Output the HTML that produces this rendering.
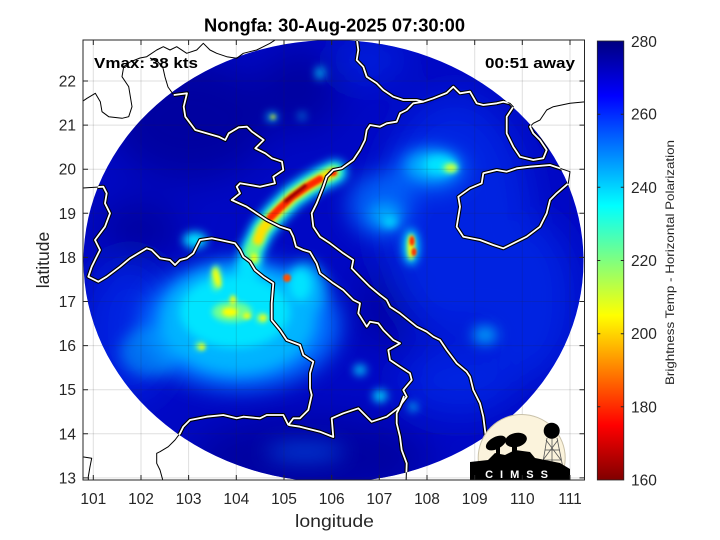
<!DOCTYPE html>
<html><head><meta charset="utf-8"><style>
html,body{margin:0;padding:0;background:#fff;}
svg{display:block;font-family:"Liberation Sans",sans-serif;}
</style></head><body>
<svg width="720" height="540" viewBox="0 0 720 540" xmlns="http://www.w3.org/2000/svg">
<defs>
<clipPath id="ax"><rect x="83" y="40" width="501.5" height="440"/></clipPath>
<clipPath id="disk"><ellipse cx="333.5" cy="261" rx="250" ry="221"/></clipPath>
<filter id="b18" filterUnits="userSpaceOnUse" x="0" y="0" width="720" height="540"><feGaussianBlur stdDeviation="18"/></filter>
<filter id="b12" filterUnits="userSpaceOnUse" x="0" y="0" width="720" height="540"><feGaussianBlur stdDeviation="11"/></filter>
<filter id="b9" filterUnits="userSpaceOnUse" x="0" y="0" width="720" height="540"><feGaussianBlur stdDeviation="7"/></filter>
<filter id="b6" filterUnits="userSpaceOnUse" x="0" y="0" width="720" height="540"><feGaussianBlur stdDeviation="4.5"/></filter>
<filter id="b4" filterUnits="userSpaceOnUse" x="0" y="0" width="720" height="540"><feGaussianBlur stdDeviation="3"/></filter>
<filter id="b2" filterUnits="userSpaceOnUse" x="0" y="0" width="720" height="540"><feGaussianBlur stdDeviation="2"/></filter>
<filter id="b1" filterUnits="userSpaceOnUse" x="0" y="0" width="720" height="540"><feGaussianBlur stdDeviation="1.3"/></filter>
<linearGradient id="jet" x1="0" y1="0" x2="0" y2="1">
<stop offset="0" stop-color="#000080"/><stop offset="0.125" stop-color="#0000ff"/>
<stop offset="0.375" stop-color="#00ffff"/><stop offset="0.625" stop-color="#ffff00"/>
<stop offset="0.875" stop-color="#ff0000"/><stop offset="1" stop-color="#800000"/>
</linearGradient>
<path id="L1" d="M173.7,95 L187,93.3 L183.7,106.7 L185.3,116.7 L195.3,130 L218.7,136.7 L225.3,140 L228.7,133.3 L238.7,127.3 L247,126.7 L252,131.7 L263.7,140 L255.3,148.3 L265.3,153.3 L272,158.3 L282,161.7 L283.3,170 L273.3,176.7 L275,183.3 L260,186.7 L240,183.3 L236.7,186.7 L240,193.3 L231.7,200 L246.7,206.7 L266.7,220 L280,226.7 L290,230 L293.3,236.7 L296,246.7 L303.3,250 L310,252 L316.7,263.3 L320,273.3 L333.3,283.3 L343.3,290 L353.3,300 L360,303.3 L358.3,313.3 L366.7,326.7 L370,321.7 L378.3,323.3 L383.3,330 L393.3,340 L400,343.3 L388.3,350 L390,360 L400,366.7 L410,373.3 L411.7,380 L403.3,390 L406.7,396.7 L401.7,403.3 L396.7,413.3 L396.7,423.3 L400,436.7 L401.7,450 L406.7,463.3 L406,484"/>
<path id="L2" d="M356.7,38 L358.3,50 L356.7,60 L363.3,66.7 L366.7,76.7 L376.7,83.3 L383.3,90 L393.3,96.7 L403.3,100 L416.7,100 L423.3,101.7 L433.3,98.3 L446.7,93 L453.3,86.7 L460,93.3 L470,91.7 L476.7,103.3 L483.3,105 L496.7,103.3 L503.3,101.7 L510,103.3 L513.3,106.7 L506.7,116.7 L506.7,133.3 L513.3,146.7 L520,156.7 L533.3,160 L543.3,158.3 L546.7,150 L540,140 L533.3,133.3 L530,126.7 L533.3,123.3 L540,120 L546.7,110 L553.3,106.7 L570,103.3 L586,101.7"/>
<path id="L4" d="M423.3,101.7 L413.3,103.3 L406.7,110 L400,113.3 L396.7,121.7 L386.7,123.3 L380,126.7 L370,125 L366.7,130 L365,140 L360,150 L353.3,160 L341.7,168.3 L333.3,170 L326.7,176.7 L323.3,186.7 L316.7,203.3 L311.7,213.3 L313.3,226.7 L320,236.7 L330,243.3 L343.3,253.3 L353.3,260 L351.7,268.3 L360,276.7 L370,286.7 L380,295 L386.7,300 L390,306.7 L400,313.3 L416.7,326.7 L426.7,331.7 L433.3,336.7 L440,340 L446.7,350 L456.7,363.3 L466.7,371.7 L470,376.7 L473.3,390 L480,403.3 L483.3,416.7 L485,430 L487,445"/>
<path id="H" d="M483.3,173.3 L496.7,170 L506.7,171.7 L516.7,168.3 L530,166.7 L550,165 L560,168.3 L570,171.7 L568.3,183.3 L556.7,193.3 L550,200 L546.7,213.3 L540,226.7 L526.7,236.7 L513.3,243.3 L503.3,248.3 L493.3,245 L480,240 L463.3,236.7 L456.7,226.7 L460,206.7 L458.3,196.7 L470,188.3 L481.7,183.3 Z"/>
<path id="L3" d="M82,188 L103.3,186.7 L106.7,193.3 L105,203.3 L110,213.3 L105,226.7 L100,233.3 L95,240 L100,250 L95,260 L91.7,266.7 L88.3,276.7 L98.3,281.7 L106.7,276.7 L120,266.7 L130,258.3 L138.3,253.3 L146.7,248.3 L151.7,250 L160,258.3 L170,260 L175,265 L180,260 L186.7,258.3 L193.3,253.3 L200,240 L211.7,238.3 L220,240 L235,243.3 L240,250 L243.3,256.7 L250,261.7 L255,270 L263.3,276.7 L273.3,283.3 L271.7,303.3 L271.7,320 L280,330 L286.7,340 L300,345 L303.3,355 L313.3,361.7 L310,373.3 L310,388.3 L311.7,395 L308.3,410 L300,418.3 L293.3,418.3 L288.3,425"/>
<path id="L5" d="M288.3,425 L283.3,415 L266.7,415 L260,418.3 L243.3,416.7 L236.7,418.3 L223.3,415 L206.7,416.7 L190,420 L183.3,426.7 L180,433.3 L175,440 L168.3,446.7 L160,451.7 L156.7,453.3 L156.7,463.3 L160,470 L163.3,482"/>
<path id="L6" d="M288.3,425 L300,426.7 L320,431.7 L333.3,437 L331.7,418.3 L343.3,413.3 L358.3,408.3 L371.7,421.7 L386.7,416.7 L400,406.7 L404,396"/>
<path id="B1" d="M82,101.7 L87,98.3 L95.3,93.3 L100.3,101.7 L102,111.7 L108.7,116.7 L122,118.3 L128.7,116.7 L132,106.7 L128.7,86.7 L122,76.7 L123.7,66.7 L130,62 L140,58 L146.7,56.7 L156.7,50 L163.3,46.7 L170,50 L176.7,46.7 L186.7,53.3 L196.7,50 L203.3,43.3 L210,50 L216.7,53.3 L226.7,56.7 L236.7,58.3 L243.3,53.3 L256.7,50 L263.3,46.7 L270,43.3 L276.7,39"/>
<path id="B2" d="M173.7,95 L168,87 L165,77 L163,68 L158,62 L150,58"/>
<path id="B3" d="M82,456.7 L91.7,458.3 L90,466.7 L88.3,476.7 L88.3,482"/>
</defs>
<rect x="0" y="0" width="720" height="540" fill="#fff"/>

<g clip-path="url(#ax)">
 <g clip-path="url(#disk)">
  <rect x="80" y="38" width="510" height="450" fill="#0008c4"/>
  <g filter="url(#b18)">
   <g fill="#00009a" opacity="0.85">
    <ellipse cx="310" cy="458" rx="120" ry="40"/>
    <ellipse cx="190" cy="120" rx="80" ry="60"/>
    <ellipse cx="300" cy="90" rx="40" ry="40"/>
    <ellipse cx="385" cy="305" rx="25" ry="40"/>
    <ellipse cx="140" cy="230" rx="40" ry="30"/>
   </g>
   <g fill="#0030ee" opacity="0.7">
    <ellipse cx="455" cy="215" rx="75" ry="120"/>
    <ellipse cx="530" cy="300" rx="45" ry="80"/>
    <ellipse cx="130" cy="330" rx="45" ry="70"/>
    <ellipse cx="460" cy="380" rx="60" ry="35"/>
    <ellipse cx="370" cy="60" rx="35" ry="20"/>
   </g>
  </g>
  <g filter="url(#b12)" fill="#0070ff">
   <ellipse cx="240" cy="325" rx="100" ry="65"/>
   <ellipse cx="380" cy="205" rx="32" ry="32" opacity="0.8"/>
   <ellipse cx="305" cy="452" rx="40" ry="7" opacity="0.7"/>
   <ellipse cx="430" cy="170" rx="38" ry="22" opacity="0.8"/>
  </g>
  <g filter="url(#b9)" fill="#00b4ff">
   <ellipse cx="238" cy="320" rx="78" ry="55"/>
   <ellipse cx="305" cy="290" rx="20" ry="28"/>
   <ellipse cx="432" cy="166" rx="26" ry="15"/>
   <ellipse cx="385" cy="215" rx="16" ry="12" opacity="0.8"/>
   <ellipse cx="485" cy="335" rx="12" ry="8"/>
   <ellipse cx="150" cy="352" rx="30" ry="25" opacity="0.5"/>
  </g>
  <g filter="url(#b6)">
   <g fill="#00e4ff">
    <ellipse cx="235" cy="312" rx="55" ry="36"/>
    <ellipse cx="300" cy="285" rx="11" ry="16"/>
    <ellipse cx="440" cy="165" rx="16" ry="9"/>
    <ellipse cx="195" cy="240" rx="12" ry="8"/>
    <ellipse cx="411" cy="247" rx="8" ry="18"/>
    <ellipse cx="360" cy="370" rx="6" ry="5"/>
    <ellipse cx="380" cy="396" rx="7" ry="6"/>
    <ellipse cx="320" cy="73" rx="4" ry="6"/>
    <ellipse cx="302" cy="116" rx="3" ry="3"/>
    <ellipse cx="272" cy="117" rx="5" ry="4"/>
    <ellipse cx="413" cy="407" rx="4" ry="4"/>
    <ellipse cx="390" cy="222" rx="7" ry="5"/>
   </g>
   <polyline points="248,268 253,248 262,230 275,214 292,197 308,186 322,178 335,172" fill="none" stroke="#00e0ff" stroke-width="24" stroke-linecap="round" stroke-linejoin="round"/>
  </g>
  <g filter="url(#b4)">
   <g fill="#70ff90">
    <ellipse cx="232" cy="312" rx="20" ry="10"/>
    <ellipse cx="216" cy="278" rx="5" ry="13"/>
    <ellipse cx="255" cy="258" rx="5" ry="7"/>
    <ellipse cx="200" cy="346" rx="5" ry="4"/>
    <ellipse cx="450" cy="168" rx="8" ry="5"/>
    <ellipse cx="262" cy="318" rx="6" ry="5"/>
   </g>
   <polyline points="252,252 262,230 275,214 292,197 308,186 322,178 334,172" fill="none" stroke="#70ff80" stroke-width="15" stroke-linecap="round" stroke-linejoin="round"/>
  </g>
  <g filter="url(#b2)">
   <g fill="#ffff00">
    <ellipse cx="217" cy="278" rx="3" ry="10" transform="rotate(-15 217 278)"/>
    <ellipse cx="230" cy="312" rx="8" ry="4.5"/>
    <ellipse cx="247" cy="316" rx="4" ry="3"/>
    <ellipse cx="263" cy="318" rx="3.5" ry="3"/>
    <ellipse cx="202" cy="347" rx="3" ry="3"/>
    <ellipse cx="254" cy="258" rx="3" ry="4.5"/>
    <ellipse cx="273" cy="117" rx="2.5" ry="2"/>
    <ellipse cx="233" cy="300" rx="3" ry="5"/>
    <ellipse cx="411" cy="247" rx="3.5" ry="13"/>
   </g>
   <ellipse cx="451" cy="168" rx="5" ry="3.5" fill="#c8ff40"/>
   <polyline points="258,240 262,230 275,214 292,197 308,186 322,178 332,173" fill="none" stroke="#ffe000" stroke-width="10" stroke-linecap="round" stroke-linejoin="round"/>
  </g>
  <g filter="url(#b1)">
   <ellipse cx="287" cy="278" rx="4" ry="4" fill="#ff5000"/>
   <polyline points="270,218 280,208 292,197 308,186 320,179" fill="none" stroke="#ff2800" stroke-width="7" stroke-linecap="round" stroke-linejoin="round"/>
   <ellipse cx="333" cy="173" rx="4" ry="3" fill="#ff2000"/>
   <ellipse cx="412" cy="241" rx="2.5" ry="5" fill="#ff3000"/>
   <ellipse cx="414" cy="252" rx="2.5" ry="4" fill="#ff3000"/>
   <polyline points="286,201 296,193 305,186" fill="none" stroke="#a00000" stroke-width="4.5" stroke-linecap="round"/>
  </g>
 </g>
 <!-- grid -->
 <g stroke="#262626" stroke-opacity="0.15" stroke-width="1">
  <line x1="93.3" y1="40" x2="93.3" y2="480"/><line x1="141" y1="40" x2="141" y2="480"/>
  <line x1="188.6" y1="40" x2="188.6" y2="480"/><line x1="236.3" y1="40" x2="236.3" y2="480"/>
  <line x1="284" y1="40" x2="284" y2="480"/><line x1="331.7" y1="40" x2="331.7" y2="480"/>
  <line x1="379.3" y1="40" x2="379.3" y2="480"/><line x1="427" y1="40" x2="427" y2="480"/>
  <line x1="474.7" y1="40" x2="474.7" y2="480"/><line x1="522.3" y1="40" x2="522.3" y2="480"/>
  <line x1="570" y1="40" x2="570" y2="480"/>
  <line x1="83" y1="81" x2="584.5" y2="81"/><line x1="83" y1="125.1" x2="584.5" y2="125.1"/>
  <line x1="83" y1="169.2" x2="584.5" y2="169.2"/><line x1="83" y1="213.3" x2="584.5" y2="213.3"/>
  <line x1="83" y1="257.4" x2="584.5" y2="257.4"/><line x1="83" y1="301.5" x2="584.5" y2="301.5"/>
  <line x1="83" y1="345.6" x2="584.5" y2="345.6"/><line x1="83" y1="389.7" x2="584.5" y2="389.7"/>
  <line x1="83" y1="433.8" x2="584.5" y2="433.8"/><line x1="83" y1="477.9" x2="584.5" y2="477.9"/>
 </g>
 <!-- coastlines thin black -->
 <g fill="none" stroke="#000" stroke-width="1" stroke-linejoin="round">
  <use href="#L1"/><use href="#L2"/><use href="#L4"/><use href="#H"/><use href="#L3"/><use href="#L5"/><use href="#L6"/>
  <use href="#B1"/><use href="#B2"/><use href="#B3"/>
 </g>
 <g clip-path="url(#disk)" fill="none" stroke-linejoin="round">
  <g stroke="#000" stroke-width="4">
   <use href="#L1"/><use href="#L2"/><use href="#L4"/><use href="#H"/><use href="#L3"/><use href="#L5"/><use href="#L6"/>
  </g>
  <g stroke="#fff" stroke-width="1.8">
   <use href="#L1"/><use href="#L2"/><use href="#L4"/><use href="#H"/><use href="#L3"/><use href="#L5"/><use href="#L6"/>
  </g>
 </g>
 <!-- CIMSS logo -->
 <circle cx="521.7" cy="458" r="43.5" fill="#fbf3dc" stroke="#c9c1a9" stroke-width="1"/>
 <g stroke="#555" stroke-width="0.8" fill="none">
  <line x1="547" y1="438" x2="542" y2="468"/><line x1="557" y1="438" x2="563" y2="468"/>
  <line x1="552" y1="438" x2="552" y2="468"/>
  <line x1="545" y1="450" x2="560" y2="450"/><line x1="543.5" y1="460" x2="561.5" y2="460"/>
  <line x1="546" y1="440" x2="561" y2="460"/><line x1="558" y1="440" x2="543" y2="460"/>
 </g>
 <circle cx="551.7" cy="430.7" r="8" fill="#000"/>
 <g fill="#000">
  <ellipse cx="496" cy="443" rx="11" ry="6" transform="rotate(-28 496 443)"/>
  <ellipse cx="516" cy="440" rx="11" ry="7" transform="rotate(-12 516 440)"/>
  <rect x="496" y="446" width="4" height="12"/>
  <rect x="512" y="445" width="5" height="12"/>
  <polygon points="470,481 470,462 488,460 495,453 505,455 515,450 530,452 535,458 545,460 560,463 570,469 570,481"/>
 </g>
 <text x="520" y="478" fill="#fff" font-size="11" font-weight="bold" text-anchor="middle" letter-spacing="7">CIMSS</text>
</g>

<!-- axes box -->
<rect x="83" y="40" width="501.5" height="440" fill="none" stroke="#262626" stroke-width="1"/>
<g stroke="#262626" stroke-width="1">
 <path d="M93.3,480v-5M141,480v-5M188.6,480v-5M236.3,480v-5M284,480v-5M331.7,480v-5M379.3,480v-5M427,480v-5M474.7,480v-5M522.3,480v-5M570,480v-5"/>
 <path d="M93.3,40v5M141,40v5M188.6,40v5M236.3,40v5M284,40v5M331.7,40v5M379.3,40v5M427,40v5M474.7,40v5M522.3,40v5M570,40v5"/>
 <path d="M83,81h5M83,125.1h5M83,169.2h5M83,213.3h5M83,257.4h5M83,301.5h5M83,345.6h5M83,389.7h5M83,433.8h5M83,477.9h5"/>
 <path d="M584.5,81h-5M584.5,125.1h-5M584.5,169.2h-5M584.5,213.3h-5M584.5,257.4h-5M584.5,301.5h-5M584.5,345.6h-5M584.5,389.7h-5M584.5,433.8h-5M584.5,477.9h-5"/>
</g>
<g fill="#262626" font-size="15.5" text-anchor="middle">
 <text x="93.3" y="504">101</text><text x="141" y="504">102</text><text x="188.6" y="504">103</text>
 <text x="236.3" y="504">104</text><text x="284" y="504">105</text><text x="331.7" y="504">106</text>
 <text x="379.3" y="504">107</text><text x="427" y="504">108</text><text x="474.7" y="504">109</text>
 <text x="522.3" y="504">110</text><text x="570" y="504">111</text>
</g>
<g fill="#262626" font-size="15.5" text-anchor="end">
 <text x="76" y="86.5">22</text><text x="76" y="130.6">21</text><text x="76" y="174.7">20</text>
 <text x="76" y="218.8">19</text><text x="76" y="262.9">18</text><text x="76" y="307">17</text>
 <text x="76" y="351.1">16</text><text x="76" y="395.2">15</text><text x="76" y="439.3">14</text>
 <text x="76" y="483.4">13</text>
</g>
<text x="295" y="527" fill="#262626" font-size="17.5" textLength="79" lengthAdjust="spacingAndGlyphs">longitude</text>
<text transform="translate(49,260) rotate(-90)" fill="#262626" font-size="17.5" text-anchor="middle">latitude</text>
<text x="204" y="31.5" fill="#000" font-size="18" font-weight="bold" textLength="261" lengthAdjust="spacingAndGlyphs">Nongfa: 30-Aug-2025 07:30:00</text>
<text x="94" y="68" fill="#000" font-size="14.5" font-weight="bold" textLength="104" lengthAdjust="spacingAndGlyphs">Vmax: 38 kts</text>
<text x="485" y="68" fill="#000" font-size="14.5" font-weight="bold" textLength="90" lengthAdjust="spacingAndGlyphs">00:51 away</text>

<!-- colorbar -->
<rect x="597.3" y="41" width="26.5" height="439" fill="url(#jet)" stroke="#262626" stroke-width="0.8"/>
<g stroke="#262626" stroke-width="1">
 <path d="M623.8,114.2h-3M623.8,187.3h-3M623.8,260.5h-3M623.8,333.7h-3M623.8,406.8h-3"/>
 <path d="M597.3,114.2h3M597.3,187.3h3M597.3,260.5h3M597.3,333.7h3M597.3,406.8h3"/>
</g>
<g fill="#262626" font-size="15.5">
 <text x="631" y="47">280</text><text x="631" y="119.7">260</text><text x="631" y="192.8">240</text>
 <text x="631" y="266">220</text><text x="631" y="339.2">200</text><text x="631" y="412.3">180</text>
 <text x="631" y="485.5">160</text>
</g>
<text transform="translate(674,262.5) rotate(-90)" fill="#262626" font-size="12" text-anchor="middle" textLength="245" lengthAdjust="spacingAndGlyphs">Brightness Temp - Horizontal Polarization</text>
</svg>
</body></html>
